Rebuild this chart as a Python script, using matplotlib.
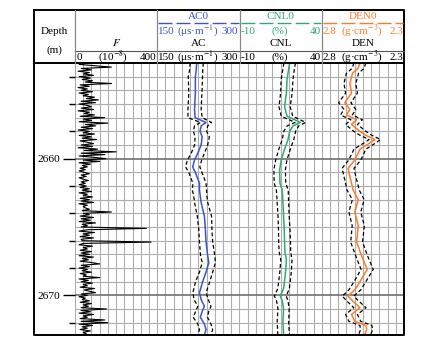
import numpy as np
import matplotlib.pyplot as plt

plt.rcParams['font.family'] = ['Liberation Serif', 'DejaVu Serif']
plt.rcParams['mathtext.fontset'] = 'stix'

# --- data ---
F_top = 2653.0
F_step = 0.1
F_val = [
    60, 20, 95, 177, 30, 80, 15, 70, 40, 90,
    20, 75, 35, 85, 50, 178, 25, 70, 15, 60,
    30, 85, 20, 65, 40, 95, 55, 114, 30, 100,
    20, 60, 80, 30, 90, 15, 70, 45, 95, 25,
    145, 40, 80, 20, 160, 50, 100, 30, 85, 15,
    70, 40, 95, 20, 80, 35, 105, 25, 60, 90,
    30, 85, 15, 110, 45, 200, 30, 145, 20, 90,
    150, 40, 120, 20, 75, 35, 60, 25, 50, 20,
    45, 70, 30, 55, 20, 40, 65, 30, 50, 20,
    55, 25, 70, 35, 80, 20, 60, 40, 85, 25,
    70, 30, 90, 20, 60, 40, 50, 70, 35, 177,
    40, 70, 25, 90, 30, 75, 20, 100, 35, 60,
    30, 347, 60, 20, 95, 40, 70, 25, 90, 30,
    35, 370, 40, 20, 85, 40, 60, 25, 80, 30,
    70, 20, 90, 35, 65, 25, 80, 120, 30, 70,
    20, 60, 35, 80, 25, 55, 40, 120, 20, 65,
    30, 85, 40, 60, 25, 95, 45, 70, 100, 30,
    60, 20, 50, 35, 70, 25, 80, 40, 65, 30,
    153, 30, 75, 20, 90, 40, 60, 25, 145, 30,
    160, 20, 85, 35, 60, 25, 75, 40, 55, 30,
]

AC_depth = [2653.0, 2653.5, 2654.0, 2655.2, 2656.4, 2657.0, 2657.35, 2657.6, 2658.0,
            2658.4, 2659.0, 2659.6, 2660.1, 2660.6, 2661.0, 2661.8, 2662.3, 2662.8,
            2663.2, 2664.2, 2665.2, 2666.1, 2667.1, 2667.6, 2668.3, 2669.0, 2669.8,
            2670.3, 2670.8, 2671.2, 2671.6, 2672.1, 2672.5, 2672.9]
AC_val = [222, 221, 219.5, 219.5, 218, 219, 239, 230, 228,
          232, 230, 224, 218, 214.6, 219.5, 227, 227, 228.7,
          230, 236, 237.8, 239, 242, 244, 239, 232.8, 227,
          230, 236, 231.7, 228.6, 236, 239, 236]
AC_err = [12, 12, 13, 12, 12, 13, 10, 12, 12,
          13, 12, 12, 13, 13, 12, 12, 13, 12,
          12, 13, 12, 12, 13, 12, 12, 13, 12,
          13, 12, 12, 13, 12, 12, 12]

CNL_depth = [2653.0, 2653.5, 2654.2, 2655.2, 2656.2, 2656.9, 2657.15, 2657.35, 2657.6,
             2658.0, 2658.6, 2659.3, 2660.1, 2660.8, 2661.8, 2662.3, 2663.2, 2664.2,
             2665.2, 2666.1, 2666.8, 2667.4, 2668.3, 2669.5, 2670.05, 2670.4, 2671.0,
             2671.9, 2672.9]
CNL_val = [20.5, 19.8, 18.9, 18.5, 17.4, 18.9, 23.5, 27, 22.5,
           20.5, 19.5, 17.4, 15.4, 14.4, 14.6, 16, 16.4, 16.8,
           17.2, 17.4, 17.6, 18.5, 18, 16.8, 14.8, 16, 16.8,
           16.4, 16.8]
CNL_err = [3.5, 3.5, 3.6, 3.5, 3.4, 3.5, 3.3, 3.2, 3.5,
           3.6, 3.5, 3.5, 3.4, 3.5, 3.5, 3.6, 3.5, 3.4,
           3.5, 3.6, 3.5, 3.4, 3.5, 3.5, 3.6, 3.5, 3.4,
           3.5, 3.5]

DEN_depth = [2653.0, 2653.4, 2653.75, 2654.5, 2655.2, 2655.9, 2656.4, 2656.8, 2657.15,
             2657.5, 2658.0, 2658.3, 2658.6, 2659.0, 2659.3, 2660.1, 2660.7, 2661.3,
             2662.3, 2663.0, 2663.9, 2664.9, 2666.1, 2667.1, 2668.1, 2668.8, 2669.6,
             2670.05, 2670.4, 2670.9, 2671.4, 2671.9, 2672.2, 2672.5, 2672.9]
DEN_val = [2.568, 2.58, 2.613, 2.629, 2.619, 2.66, 2.629, 2.65, 2.588,
           2.619, 2.568, 2.53, 2.477, 2.527, 2.568, 2.599, 2.64, 2.629,
           2.609, 2.578, 2.599, 2.578, 2.588, 2.558, 2.524, 2.558, 2.599,
           2.64, 2.613, 2.568, 2.619, 2.599, 2.532, 2.527, 2.54]
DEN_err = [0.036, 0.036, 0.037, 0.036, 0.036, 0.037, 0.036, 0.036, 0.035,
           0.036, 0.037, 0.036, 0.035, 0.036, 0.036, 0.037, 0.036, 0.036,
           0.037, 0.036, 0.036, 0.037, 0.036, 0.036, 0.037, 0.036, 0.036,
           0.035, 0.036, 0.037, 0.036, 0.036, 0.036, 0.037, 0.036]

TOP, BOT = 2653.0, 2672.9
C_AC, C_CNL, C_DEN = '#3a55c8', '#33a874', '#ff7a2a'

# --- layout in pixels ---
W, H = 442, 341
X0, X1 = 34, 404
Y0, YH, YD, Y1 = 10, 51, 63, 335
TW = (X1 - 75) / 4
edges = [75 + TW * i for i in range(5)]

fig = plt.figure(figsize=(W / 100, H / 100), dpi=100)


def ax_at(x0, y0, x1, y1):
    return fig.add_axes([x0 / W, 1 - y1 / H, (x1 - x0) / W, (y1 - y0) / H])


tracks = [(0, 400), (150, 300), (-10, 40), (2.8, 2.3)]
axes = []
for i, (lo, hi) in enumerate(tracks):
    ax = ax_at(edges[i], YD, edges[i + 1], Y1)
    ax.set_xlim(lo, hi)
    ax.set_ylim(BOT, TOP)
    for xv in np.linspace(lo, hi, 11):
        ax.axvline(xv, color='#adadad', lw=0.8, zorder=0)
    for d in range(2654, 2673):
        strong = d % 10 == 0
        ax.axhline(d, color='#707070' if strong else '#adadad',
                   lw=1.2 if strong else 0.8, zorder=0)
    for s in ax.spines.values():
        s.set_visible(False)
    ax.set_xticks([])
    ax.set_yticks([])
    axes.append(ax)

# depth ticks on the F track
axF = axes[0]
axF.set_yticks([2660, 2670])
axF.set_yticklabels(['2660', '2670'], fontsize=8.2)
axF.set_yticks(np.arange(2654, 2673, 2), minor=True)
axF.tick_params(axis='y', which='major', length=9, width=1, pad=1.5)
axF.tick_params(axis='y', which='minor', length=4.5, width=1)

F_depth = F_top + F_step * np.arange(len(F_val))
axF.plot(F_val, F_depth, color='black', lw=0.8)

for ax, dep, val, err, c in [(axes[1], AC_depth, AC_val, AC_err, C_AC),
                              (axes[2], CNL_depth, CNL_val, CNL_err, C_CNL),
                              (axes[3], DEN_depth, DEN_val, DEN_err, C_DEN)]:
    val = np.array(val)
    err = np.array(err)
    ax.plot(val - err, dep, color='black', lw=0.9, ls=(0, (3, 2)))
    ax.plot(val + err, dep, color='black', lw=0.9, ls=(0, (3, 2)))
    ax.plot(val, dep, color=c, lw=1.1)

# --- header and frame overlay ---
ov = fig.add_axes([0, 0, 1, 1], facecolor='none')
ov.set_xlim(0, W)
ov.set_ylim(H, 0)
ov.axis('off')

ov.plot([X0, X1, X1, X0, X0], [Y0, Y0, Y1, Y1, Y0], color='black', lw=1.4)
ov.plot([X0, X1], [YD, YD], color='black', lw=1.4)
ov.plot([edges[0], X1], [YH, YH], color='#555555', lw=0.8)
for e in edges[:-1]:
    ov.plot([e, e], [Y0, YD], color='#888888', lw=0.9)

fs = 8
ov.text((X0 + edges[0]) / 2, 31, 'Depth', fontsize=fs, ha='center', va='center')
ov.text((X0 + edges[0]) / 2, 50, '(m)', fontsize=fs, ha='center', va='center')

cF = (edges[0] + edges[1]) / 2
ov.text(cF, 43, '$F$', fontsize=fs, ha='center', va='center')
ov.text(edges[0] + 1.5, 57, '0', fontsize=fs, ha='left', va='center')
ov.text(cF - 3, 57, '(10$^{-8}$)', fontsize=fs, ha='center', va='center')
ov.text(edges[1] - 1, 57, '400', fontsize=fs, ha='right', va='center')

heads = [('AC0', 'AC', '150', '(μs·m$^{-1}$)', '300', C_AC),
         ('CNL0', 'CNL', '-10', '(%)', '40', C_CNL),
         ('DEN0', 'DEN', '2.8', '(g·cm$^{-3}$)', '2.3', C_DEN)]
for i, (name, short, lo, unit, hi, c) in enumerate(heads):
    a, b = edges[i + 1], edges[i + 2]
    cx = (a + b) / 2
    ov.plot([a + 1, b - 1], [23, 23], color=c, lw=1.0, ls=(0, (10, 3)))
    ov.text(cx, 16.5, name, fontsize=fs, ha='center', va='center', color=c)
    ov.text(a + 1, 31, lo, fontsize=fs, ha='left', va='center', color=c)
    ov.text(cx - 1, 31, unit, fontsize=fs, ha='center', va='center', color=c)
    ov.text(b - 1, 31, hi, fontsize=fs, ha='right', va='center', color=c)
    ov.text(cx, 44, short, fontsize=fs, ha='center', va='center')
    ov.text(a + 1, 57, lo, fontsize=fs, ha='left', va='center')
    ov.text(cx - 1, 57, unit, fontsize=fs, ha='center', va='center')
    ov.text(b - 1, 57, hi, fontsize=fs, ha='right', va='center')

fig.savefig('out.png', dpi=100)
